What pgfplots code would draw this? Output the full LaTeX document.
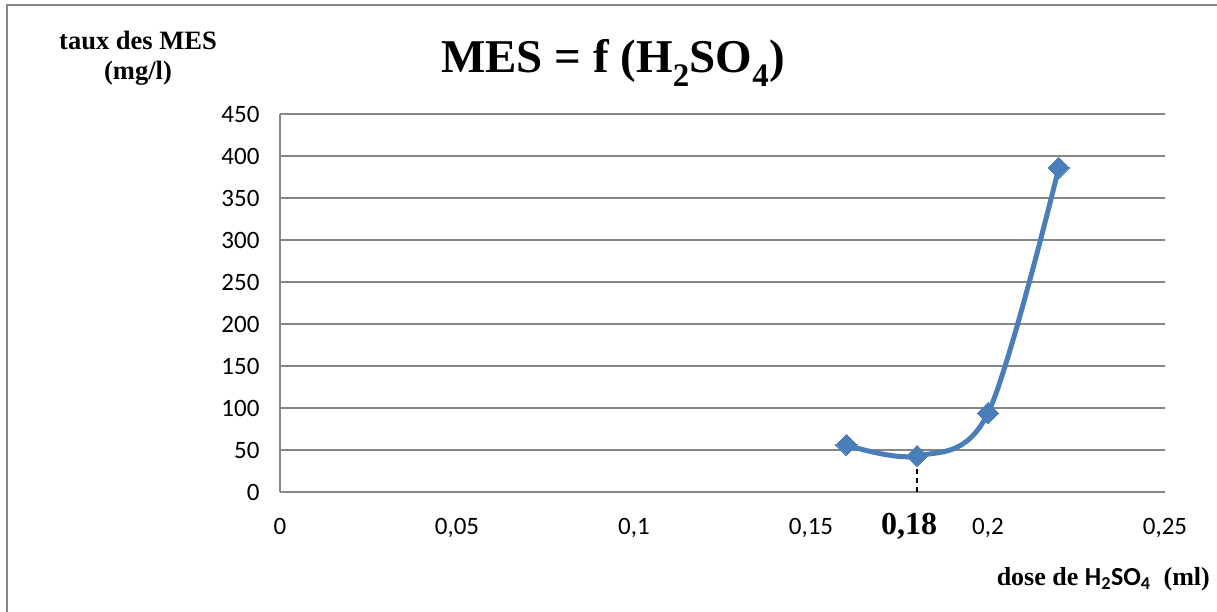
\documentclass[border=0pt]{standalone}
\usepackage{fontspec}
\setmainfont{Liberation Serif}
\newfontfamily\carlito{Carlito}
\usepackage{pgfplots}
\pgfplotsset{compat=1.18}
\definecolor{serblue}{RGB}{74,126,187}
\definecolor{gridgray}{RGB}{134,134,134}
\begin{document}
\begin{tikzpicture}[x=1pt,y=1pt]
\path[use as bounding box] (0,0) rectangle (1217,612);
\draw[gridgray, line width=2pt] (6.5,0) -- (6.5,606.5) -- (1217,606.5);
\begin{axis}[
  at={(280pt,120pt)}, anchor=south west,
  scale only axis, width=885pt, height=378pt,
  xmin=0, xmax=0.25, ymin=0, ymax=450,
  xtick={0,0.05,0.1,0.15,0.2,0.25},
  xticklabels={0,{0,05},{0,1},{0,15},{0,2},{0,25}},
  ytick={0,50,...,450},
  axis x line*=bottom, axis y line*=left,
  ymajorgrids, grid style={gridgray, line width=1.3pt},
  axis line style={gridgray, line width=1.3pt},
  major tick length=0pt,
  tick label style={font=\carlito\fontsize{25}{30}\selectfont, text=black},
  /pgf/number format/assume math mode=true,
  yticklabel style={anchor=east, xshift=-17pt},
  xticklabel style={anchor=north, yshift=-23pt},
  clip=false,
]
\addplot[black, line width=1.5pt, dash pattern=on 5pt off 4pt, forget plot] coordinates {(0.18,0) (0.18,43)};
\addplot[serblue, line width=5pt, smooth, tension=0.55, mark=square*,
  mark size=7.5pt, mark options={rotate=45, fill=serblue, draw=serblue, line width=0pt, solid}]
  coordinates {(0.16,56) (0.18,43) (0.2,94) (0.22,386)};
\end{axis}
\node[font=\bfseries\fontsize{26.5}{30}\selectfont, align=center] at (138,554) {taux des MES\\(mg/l)};
\node[font=\bfseries\fontsize{47}{54}\selectfont, anchor=base] at (613,539) {MES = f (H\textsubscript{2}SO\textsubscript{4})};
\node[font=\bfseries\fontsize{32}{36}\selectfont, anchor=base] at (909,77) {0,18};
\node[font=\bfseries\fontsize{26}{30}\selectfont, anchor=base east, inner sep=0pt] at (1210,26) {dose de {\carlito H\textsubscript{2}SO\textsubscript{4}}\ \ (ml)};
\end{tikzpicture}
\end{document}
